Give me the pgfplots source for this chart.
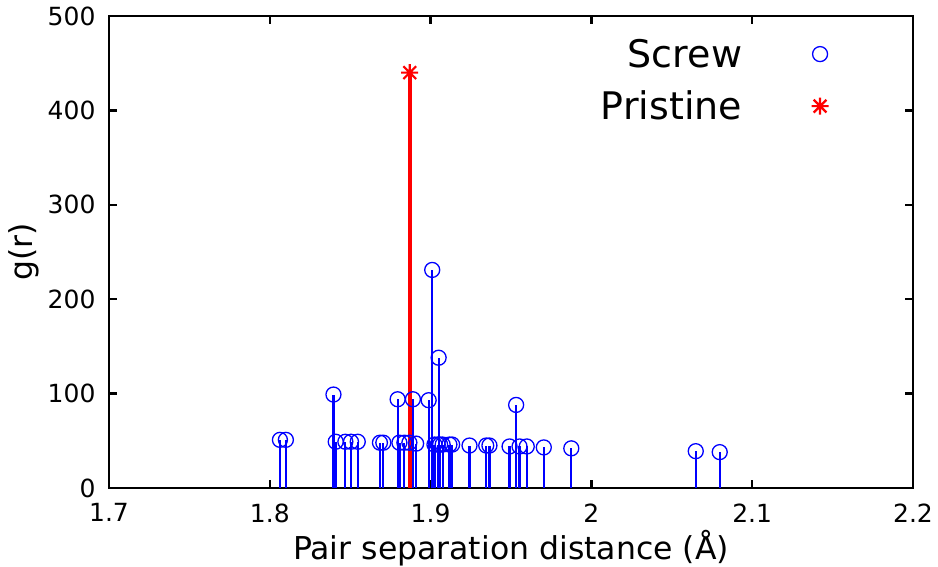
\documentclass[border=0pt]{standalone}
\usepackage{fontspec}
\setmainfont{DejaVu Sans}
\usepackage{pgfplots}
\usepackage{pgfplotstable}
\pgfplotsset{compat=1.18}
\pgfdeclareplotmark{gpstar}{%
 \pgfpathmoveto{\pgfqpoint{-\pgfplotmarksize}{0pt}}\pgfpathlineto{\pgfqpoint{\pgfplotmarksize}{0pt}}%
 \pgfpathmoveto{\pgfqpoint{0pt}{-\pgfplotmarksize}}\pgfpathlineto{\pgfqpoint{0pt}{\pgfplotmarksize}}%
 \pgfpathmoveto{\pgfqpoint{-.75\pgfplotmarksize}{-.75\pgfplotmarksize}}\pgfpathlineto{\pgfqpoint{.75\pgfplotmarksize}{.75\pgfplotmarksize}}%
 \pgfpathmoveto{\pgfqpoint{-.75\pgfplotmarksize}{.75\pgfplotmarksize}}\pgfpathlineto{\pgfqpoint{.75\pgfplotmarksize}{-.75\pgfplotmarksize}}%
 \pgfusepathqstroke}
\pgfplotstableread{
x g
1.8063 51
1.8100 51
1.8396 99
1.8410 49
1.8470 49
1.8505 49
1.8547 49
1.8685 48
1.8706 48
1.8795 94
1.8806 48
1.8837 48
1.8868 48
1.8890 94
1.8910 47
1.8988 93
1.9010 231
1.9024 46
1.9044 46
1.9050 138
1.9059 46
1.9075 46
1.9117 46
1.9134 46
1.9242 45
1.9346 45
1.9366 45
1.9491 44
1.9532 88
1.9553 44
1.9598 44
1.9704 43
1.9875 42
2.0649 39
2.0798 38
}\screw
\pgfplotstableread{
x g
1.8870 440
}\pristine
\begin{document}
\begin{tikzpicture}[x=1pt,y=1pt]
\useasboundingbox (0,0) rectangle (938,567);
\begin{axis}[
  at={(109pt,79pt)}, anchor=south west,
  scale only axis, width=804pt, height=472pt,
  xmin=1.7, xmax=2.2, ymin=0, ymax=500,
  xtick={1.7,1.8,1.9,2.0,2.1,2.2},
  xticklabels={1.7,1.8,1.9,2,2.1,2.2},
  ytick={0,100,200,300,400,500},
  tick align=inside, major tick length=8pt,
  tick style={line width=2.5pt, black},
  axis line style={line width=2.5pt},
  /pgf/number format/assume math mode=true,
  tick label style={font=\fontsize{25}{30}\selectfont},
  xticklabel style={yshift=-12pt},
  yticklabel style={xshift=-10pt},
  xlabel={Pair separation distance (Å)},
  ylabel={g(r)},
  every axis x label/.style={at={(axis description cs:0.5,0)}, anchor=center, yshift=-60pt, font=\fontsize{31.5}{38}\selectfont},
  every axis y label/.style={at={(axis description cs:-0.106,0.5)}, anchor=center, rotate=90, font=\fontsize{31.5}{38}\selectfont},
  clip=false,
  legend plot pos=right,
  legend cell align=right,
  legend image code/.code={\path[draw=none,fill=none] (0pt,-1pt) rectangle (1pt,1pt); \draw[#1] plot coordinates {(76pt,0pt)};},
  legend style={draw=none, fill=none, inner sep=0pt, outer sep=0pt,
    at={(axis description cs:0.895,0.955)}, anchor=north east,
    font=\fontsize{38}{46}\selectfont, row sep=18pt},
]
\addlegendimage{blue, mark=o, mark size=7.5pt, line width=1.3pt}
\addlegendentry{Screw}
\addlegendimage{red, mark=gpstar, mark size=8.5pt, line width=2.2pt}
\addlegendentry{Pristine}
\addplot[ycomb, blue, line width=2.2pt, mark=o, mark size=7.5pt, mark options={line width=1.3pt}, forget plot] table[x=x,y=g] {\screw};
\addplot[ycomb, red, line width=3.8pt, mark=gpstar, mark size=8.5pt, mark options={line width=2.2pt}, forget plot] table[x=x,y=g] {\pristine};
\end{axis}
\end{tikzpicture}
\end{document}
